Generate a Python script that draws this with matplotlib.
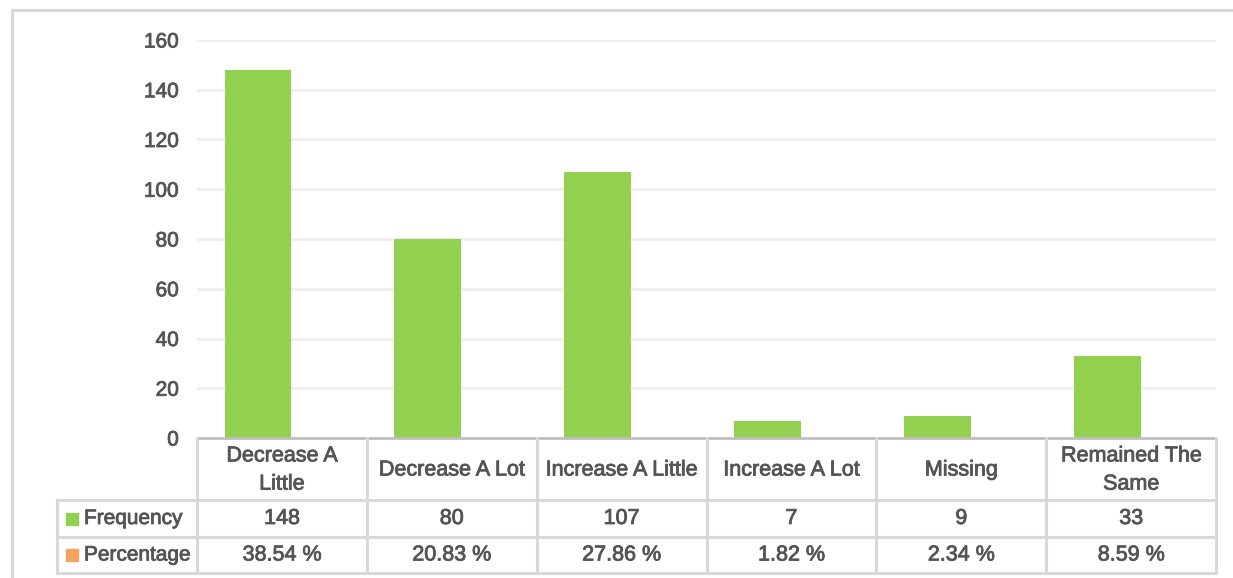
import matplotlib
matplotlib.use("Agg")
import matplotlib.pyplot as plt
import matplotlib.patheffects as pe
from matplotlib.patches import Rectangle
from matplotlib.lines import Line2D
from matplotlib import font_manager

categories = ["Decrease A\nLittle", "Decrease A Lot", "Increase A Little",
              "Increase A Lot", "Missing", "Remained The\nSame"]
frequency = [148, 80, 107, 7, 9, 33]
percentage = [38.54, 20.83, 27.86, 1.82, 2.34, 8.59]
series_names = ["Frequency", "Percentage"]
yticks = [0, 20, 40, 60, 80, 100, 120, 140, 160]

names = {f.name for f in font_manager.fontManager.ttflist}
fam = "Liberation Sans Narrow" if "Liberation Sans Narrow" in names else "Liberation Sans"
plt.rcParams["font.family"] = [fam, "DejaVu Sans"]

W, H = 1233, 578
fig = plt.figure(figsize=(W / 100, H / 100), dpi=100)
fig.patch.set_facecolor("white")

L, R, B, T = 197, 1216, 438, 40
ax = fig.add_axes([L / W, (H - B) / H, (R - L) / W, (B - T) / H])
ax.set_xlim(-0.5, 5.5)
ax.set_ylim(0, 160)

green = "#92d050"
orange = "#f4a460"
text_c = "#555555"
grid_c = "#efefef"
line_c = "#d9d9d9"
heavy = [pe.withStroke(linewidth=0.6, foreground=text_c)]

x = list(range(len(categories)))
ax.bar([i - 0.141 for i in x], frequency, width=0.394, color=green, zorder=3)

ax.set_yticks(yticks)
ax.set_yticklabels([str(v) for v in yticks], fontsize=15, color=text_c)
for t in ax.get_yticklabels():
    t.set_path_effects(heavy)
ax.tick_params(axis="y", length=0, pad=13)
ax.tick_params(axis="x", length=0, labelbottom=False)
ax.yaxis.grid(True, color=grid_c, lw=2)
ax.set_axisbelow(True)
for s in ["top", "right", "left"]:
    ax.spines[s].set_visible(False)
ax.spines["bottom"].set_color("#bfbfbf")
ax.spines["bottom"].set_linewidth(2)
ax.spines["bottom"].set_zorder(5)

def fy(ypx):
    return (H - ypx) / H

def fx(xpx):
    return xpx / W

tf = fig.transFigure
tab_left = 57
row_y = [438, 500, 537, 573]
bounds = [L + (R - L) * k / 6 for k in range(7)]

for yy in row_y[1:]:
    fig.add_artist(Line2D([fx(tab_left), fx(R)], [fy(yy), fy(yy)], color=line_c, lw=2.2, transform=tf))
for bx in bounds:
    fig.add_artist(Line2D([fx(bx), fx(bx)], [fy(row_y[0]), fy(row_y[3])], color=line_c, lw=2.2, transform=tf))
fig.add_artist(Line2D([fx(tab_left), fx(tab_left)], [fy(row_y[1]), fy(row_y[3])], color=line_c, lw=2.2, transform=tf))

for i, c in enumerate(categories):
    cx = (bounds[i] + bounds[i + 1]) / 2
    fig.text(fx(cx), fy((row_y[0] + row_y[1]) / 2 + 1), c, ha="center", va="center",
             fontsize=15.5, color=text_c, linespacing=1.45, path_effects=heavy)
    fig.text(fx(cx), fy((row_y[1] + row_y[2]) / 2), str(frequency[i]), ha="center", va="center",
             fontsize=15.5, color=text_c, path_effects=heavy)
    fig.text(fx(cx), fy((row_y[2] + row_y[3]) / 2), f"{percentage[i]:.2f} %", ha="center", va="center",
             fontsize=15.5, color=text_c, path_effects=heavy)

for j, (nm, col) in enumerate(zip(series_names, [green, orange])):
    yc = (row_y[j + 1] + row_y[j + 2]) / 2
    fig.add_artist(Rectangle((fx(66), fy(yc + 6)), 12 / W, 12 / H, color=col, transform=tf))
    fig.text(fx(84), fy(yc), nm, ha="left", va="center", fontsize=15, color=text_c, path_effects=heavy)

fig.add_artist(Line2D([fx(12), fx(W)], [fy(10), fy(10)], color=line_c, lw=2.2, transform=tf))
fig.add_artist(Line2D([fx(12), fx(12)], [fy(10), fy(H)], color=line_c, lw=2.2, transform=tf))

fig.savefig("out.png", dpi=100, facecolor="white")
